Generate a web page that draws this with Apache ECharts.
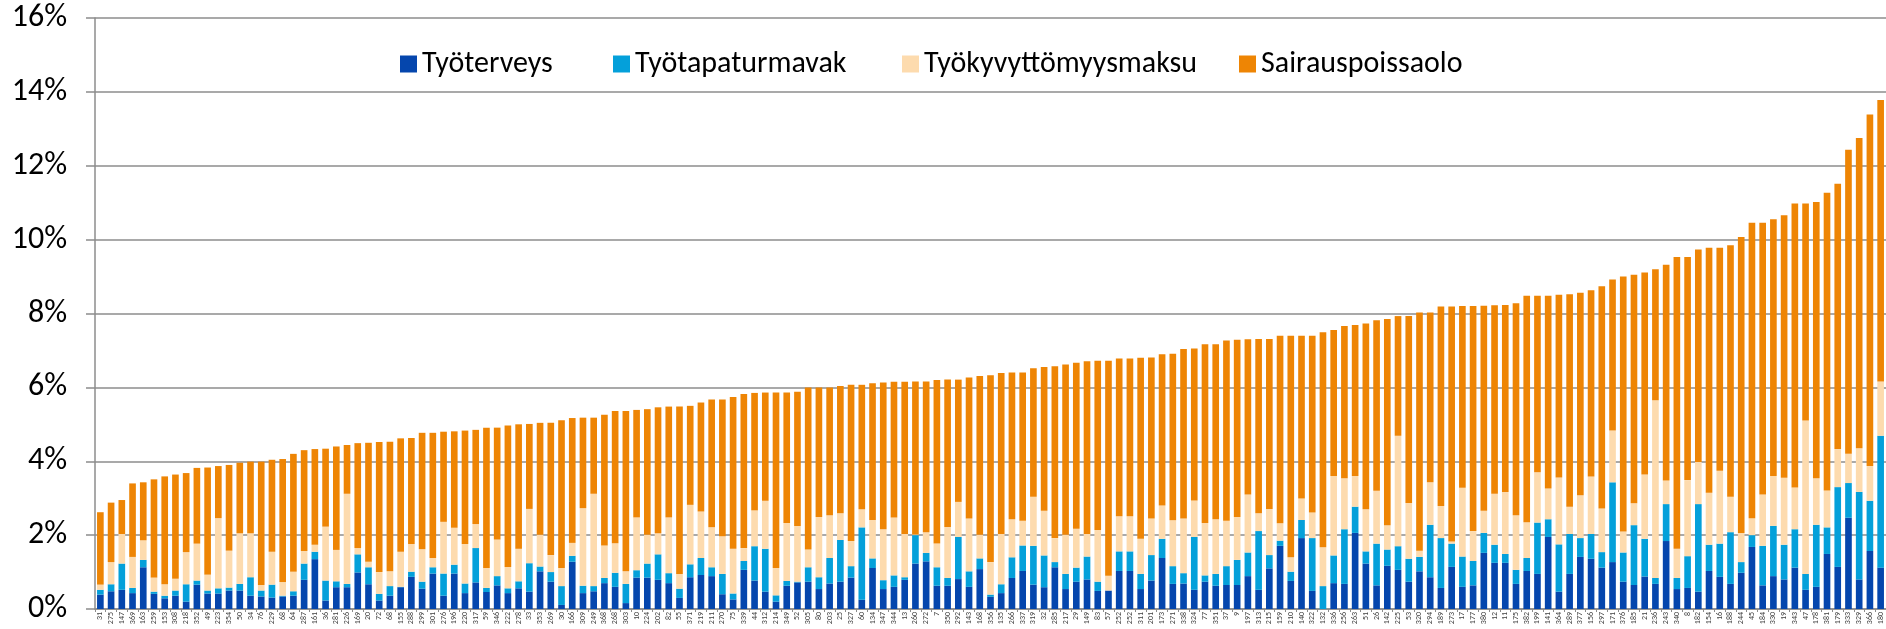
<!DOCTYPE html>
<html>
<head>
<meta charset="utf-8">
<script src="https://cdn.jsdelivr.net/npm/echarts@6/dist/echarts.min.js"></script>
<style>
  html, body { margin: 0; padding: 0; background: #fff; }
  #chart { width: 1886px; height: 629px; }
</style>
</head>
<body>
<div id="chart"></div>
<script>
// yksiköt järjestettynä kokonaiskustannuksen mukaan
var categories = ['31','275','147','369','163','259','153','308','218','352',
  '49','223','354','50','34','76','229','68','64','287',
  '161','36','281','226','169','20','72','68','155','288',
  '299','301','276','196','220','317','59','346','222','278',
  '33','353','269','30','166','309','249','368','268','303',
  '10','224','202','82','55','371','219','211','270','75',
  '339','44','312','214','349','52','305','80','203','25',
  '327','60','134','347','344','13','260','272','7','350',
  '292','143','168','356','135','266','337','319','32','285',
  '217','29','149','83','57','252','252','311','201','173',
  '271','338','324','77','351','37','9','197','313','215',
  '159','210','140','322','132','336','256','263','51','26',
  '142','225','53','320','294','189','273','17','177','380',
  '12','11','175','382','199','141','364','289','377','156',
  '297','171','376','185','21','236','243','340','8','182',
  '154','16','188','244','45','184','330','19','343','47',
  '178','381','179','333','329','366','180'];

var tyoterveys = [.39,.48,.52,.43,1.13,.41,.29,.36,.20,.66,
  .42,.42,.50,.50,.36,.34,.31,.34,.36,.79,
  1.35,.23,.59,.59,.99,.67,.23,.36,.59,.87,
  .55,.96,.36,.96,.43,.72,.46,.64,.43,.56,
  .47,1.02,.74,.11,1.28,.43,.48,.70,.60,.16,
  .85,.85,.79,.70,.30,.86,.92,.89,.40,.26,
  1.06,.77,.47,.20,.63,.72,.74,.54,.69,.74,
  .85,.25,1.11,.54,.60,.79,1.23,1.29,.63,.63,
  .81,.60,1.08,.33,.43,.84,1.03,.66,.59,1.13,
  .54,.74,.80,.49,.50,1.03,1.03,.54,.77,1.38,
  .68,.69,.52,.74,.63,.65,.65,.89,.52,1.10,
  1.71,.76,1.92,.49,0,.70,.68,2.06,1.23,.64,
  1.17,1.06,.74,1.02,.86,.57,1.14,.60,.64,1.52,
  1.25,1.25,.68,1.03,.95,1.95,.47,.95,1.41,1.36,
  1.12,1.27,.74,.65,.88,.68,1.84,.54,.57,.47,
  1.03,.87,.68,.98,1.68,.64,.89,.80,1.12,.52,
  .60,1.49,1.14,2.47,.80,1.57,1.12];

var tyotapaturma = [.13,.19,.71,.14,.20,.06,.07,.14,.47,.11,
  .08,.14,.08,.18,.50,.16,.35,.02,.12,.44,
  .20,.54,.16,.09,.49,.46,.18,.26,.01,.14,
  .19,.17,.60,.24,.26,.93,.11,.25,.13,.19,
  .77,.13,.26,.51,.16,.20,.14,.14,.38,.52,
  .20,.38,.69,.27,.25,.35,.46,.24,.55,.16,
  .24,.93,1.16,.17,.13,.02,.39,.32,.69,1.13,
  .31,1.96,.26,.24,.31,.07,.77,.23,.50,.21,
  1.14,.42,.29,.06,.24,.56,.69,1.05,.86,.14,
  .41,.38,.62,.25,0,.53,.53,.41,.69,.52,
  .48,.28,1.43,.17,.32,.51,.68,.64,1.59,.36,
  .14,.25,.49,1.43,.62,.75,1.48,.71,.33,1.13,
  .44,.64,.62,.39,1.42,1.35,.63,.82,.66,.54,
  .49,.24,.38,.35,1.39,.48,1.28,1.08,.51,.67,
  .42,2.16,.79,1.62,1.02,.16,1.00,.30,.86,2.37,
  .71,.90,1.40,.29,.32,1.07,1.36,.94,1.04,.43,
  1.68,.72,2.16,.94,2.37,1.36,3.57];

var tyokyvyttomyys = [.14,.60,.80,.84,.53,.38,.31,.32,.87,1.00,
  .43,1.90,1.00,1.37,1.19,.15,.89,.37,.53,.34,
  .19,1.46,.85,2.44,.17,.15,.59,.40,.95,.75,
  .88,.25,1.40,1.00,1.07,.65,.54,.99,.58,.88,
  1.47,.86,.46,.49,.35,2.10,2.50,.88,.80,.34,
  1.43,.78,.57,1.51,.40,1.61,1.26,1.08,1.02,1.21,
  .35,.97,1.30,.74,1.57,1.51,.48,1.63,1.16,.72,
  .68,.49,1.04,1.38,1.57,1.17,.02,.56,.64,1.38,
  .95,1.43,.64,.88,1.36,1.03,.67,1.33,1.21,.65,
  1.06,1.05,.61,1.40,.40,.95,.95,.95,.99,.90,
  1.24,1.48,.99,1.42,1.48,1.23,1.16,1.57,.48,1.25,
  .47,.39,.58,.69,1.05,2.15,1.38,.83,1.14,1.43,
  .66,2.99,1.51,.17,1.15,.87,.06,1.86,.81,.60,
  1.38,1.68,1.48,.97,1.36,.83,1.81,.74,1.16,1.56,
  1.18,1.40,.57,.59,1.74,4.81,.64,.79,2.06,1.14,
  1.41,1.97,.96,.79,.46,1.39,1.35,1.81,1.13,4.15,
  1.26,1.00,1.03,.79,1.18,.94,1.47];

var sairauspoissaolo = [1.96,1.61,.92,1.99,1.57,2.66,2.92,2.82,2.14,2.05,
  2.90,1.41,2.32,1.91,1.94,3.34,2.49,3.33,3.19,2.73,
  2.59,2.11,2.80,1.32,2.84,3.22,3.52,3.51,3.07,2.87,
  3.15,3.39,2.44,2.61,3.07,2.55,3.80,3.03,3.83,3.37,
  2.30,3.03,3.58,4.00,3.38,2.45,2.06,3.54,3.58,4.34,
  2.91,3.40,3.41,3.00,4.53,2.68,2.95,3.46,3.70,4.11,
  4.17,3.18,2.93,4.75,3.53,3.63,4.39,3.51,3.46,3.45,
  4.23,3.37,3.70,3.97,3.67,4.12,4.14,4.08,4.43,3.99,
  3.31,3.82,4.30,5.06,4.36,3.97,4.01,3.48,3.89,4.65,
  4.61,4.50,4.68,4.58,5.82,4.27,4.27,4.90,4.36,4.10,
  4.51,4.59,4.11,4.84,4.74,4.88,4.80,4.20,4.72,4.60,
  5.08,6.00,4.41,4.79,5.82,3.95,4.12,4.09,5.03,4.62,
  5.58,3.24,5.06,6.45,4.60,5.40,6.36,4.92,6.09,5.55,
  5.10,5.06,5.74,6.13,4.78,5.22,4.95,5.75,5.48,5.04,
  6.02,4.09,6.90,6.19,5.47,3.55,5.84,7.90,6.04,5.75,
  6.63,6.04,6.81,8.01,8.00,7.36,6.95,7.11,7.69,5.88,
  7.48,8.06,7.18,8.23,8.40,9.52,7.62];

var font = 'Carlito, Lato, sans-serif';
var gridColor = '#8c8c8c';

var myChart = echarts.init(document.getElementById('chart'));

function legendItem(name, left) {
  return {
    data: [name],
    left: left,
    top: 49,
    padding: 0,
    itemWidth: 17,
    itemHeight: 17,
    itemGap: 0,
    icon: 'rect',
    textStyle: { fontFamily: font, fontSize: 30, color: '#000' }
  };
}

var option = {
  animation: false,
  backgroundColor: '#fff',
  color: ['#0546ad', '#04a0da', '#fddbae', '#ee8504'],
  legend: [
    legendItem('Työterveys', 400),
    legendItem('Työtapaturmavak', 613),
    legendItem('Työkyvyttömyysmaksu', 902),
    legendItem('Sairauspoissaolo', 1239)
  ],
  grid: {
    left: 95,
    right: 0,
    top: 18,
    bottom: 20
  },
  xAxis: {
    type: 'category',
    data: categories,
    axisLine: { lineStyle: { color: gridColor, width: 1.5 } },
    axisTick: { show: true, length: 3, lineStyle: { color: gridColor } },
    axisLabel: {
      interval: 0,
      rotate: 90,
      fontSize: 8,
      margin: 3,
      color: '#404040',
      fontFamily: font
    }
  },
  yAxis: {
    type: 'value',
    min: 0,
    max: 16,
    interval: 2,
    axisLine: { show: true, lineStyle: { color: gridColor, width: 1.5 } },
    axisTick: { show: true, length: 9, lineStyle: { color: gridColor, width: 1.5 } },
    splitLine: { lineStyle: { color: gridColor, width: 1.5 } },
    axisLabel: {
      formatter: '{value}%',
      fontSize: 32,
      margin: 28,
      color: '#000',
      fontFamily: font
    }
  },
  series: [
    { name: 'Työterveys', type: 'bar', stack: 'kulut', barWidth: '62%', data: tyoterveys },
    { name: 'Työtapaturmavak', type: 'bar', stack: 'kulut', data: tyotapaturma },
    { name: 'Työkyvyttömyysmaksu', type: 'bar', stack: 'kulut', data: tyokyvyttomyys },
    { name: 'Sairauspoissaolo', type: 'bar', stack: 'kulut', data: sairauspoissaolo }
  ]
};

myChart.setOption(option);
</script>
</body>
</html>
